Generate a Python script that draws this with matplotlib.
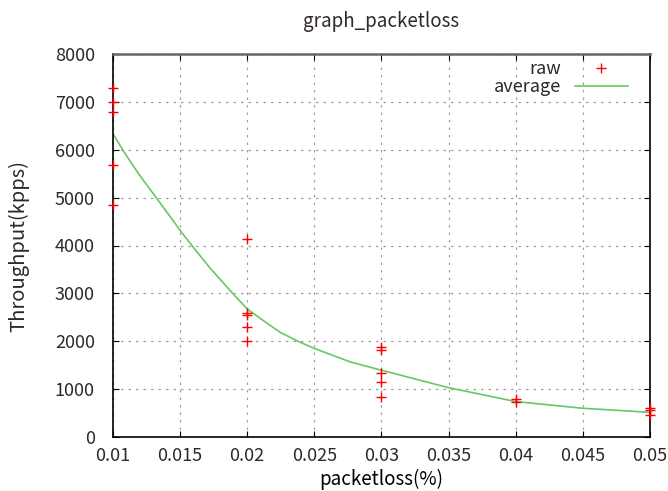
import matplotlib
matplotlib.use("Agg")
import matplotlib.pyplot as plt

plt.rcParams['font.family'] = ['Noto Sans CJK JP', 'DejaVu Sans']
plt.rcParams['text.color'] = '#302828'
plt.rcParams['xtick.labelcolor'] = '#302828'
plt.rcParams['ytick.labelcolor'] = '#302828'

# raw measurements (packetloss, throughput kpps)
raw_x = [0.01, 0.01, 0.01, 0.01, 0.01,
         0.02, 0.02, 0.02, 0.02, 0.02,
         0.03, 0.03, 0.03, 0.03, 0.03,
         0.04, 0.04,
         0.05, 0.05, 0.05]
raw_y = [7300, 7000, 6780, 5680, 4850,
         4130, 2600, 2550, 2290, 2000,
         1880, 1810, 1330, 1150, 830,
         790, 740,
         600, 560, 460]

# smoothed average curve
avg_x = [0.01, 0.0108, 0.0117, 0.0123, 0.0133, 0.0143, 0.0151, 0.0162, 0.0172,
         0.0182, 0.019, 0.02, 0.0212, 0.0225, 0.0239, 0.025, 0.0277,
         0.03, 0.035, 0.04, 0.045, 0.05]
avg_y = [6340, 5967, 5586, 5350, 4970, 4590, 4280, 3888, 3541,
         3225, 2975, 2676, 2432, 2180, 1985, 1850, 1566,
         1395, 1030, 740, 600, 515]

xticks = [0.01, 0.015, 0.02, 0.025, 0.03, 0.035, 0.04, 0.045, 0.05]
xlabels = ['0.01', '0.015', '0.02', '0.025', '0.03', '0.035', '0.04', '0.045', '0.05']
yticks = [0, 1000, 2000, 3000, 4000, 5000, 6000, 7000, 8000]

fig = plt.figure(figsize=(6.68, 4.91), dpi=100)
ax = fig.add_axes([0.169, 0.110, 0.804, 0.780])

ax.plot(raw_x, raw_y, '+', color='red', markersize=7, markeredgewidth=1, label='raw',
        clip_on=False, zorder=3)
ax.plot(avg_x, avg_y, '-', color='#66c866', linewidth=1.2, label='average', zorder=2)

ax.set_xlim(0.01, 0.05)
ax.set_ylim(0, 8000)
ax.set_xticks(xticks)
ax.set_xticklabels(xlabels)
ax.set_yticks(yticks)
ax.tick_params(direction='in', length=4, labelsize=13, top=True, right=True)
ax.tick_params(axis='y', pad=13)
ax.tick_params(axis='x', pad=7)
ax.grid(True, linestyle=(0, (2, 4)), color='#a0a0a0', linewidth=0.9)
for s in ax.spines.values():
    s.set_linewidth(1.2)
ax.spines['top'].set_color('#666666')
ax.spines['top'].set_linewidth(1.8)

fig.text(0.5 * (0.169 + 0.973), 1 - 22 / 491, 'graph_packetloss', fontsize=13.5,
         ha='center', va='center')
ax.set_xlabel('packetloss(%)', fontsize=13.5, labelpad=3)
fig.text(19 / 668, 1 - 246 / 491, 'Throughput(kpps)', fontsize=14.5, rotation=90,
         ha='center', va='center')

ax.legend(loc='upper right', bbox_to_anchor=(0.975, 1.008), frameon=False,
          markerfirst=False, fontsize=13, handlelength=2.9, handletextpad=0.8,
          borderaxespad=0.1, labelspacing=0.0)

fig.savefig('out.png', dpi=100)
